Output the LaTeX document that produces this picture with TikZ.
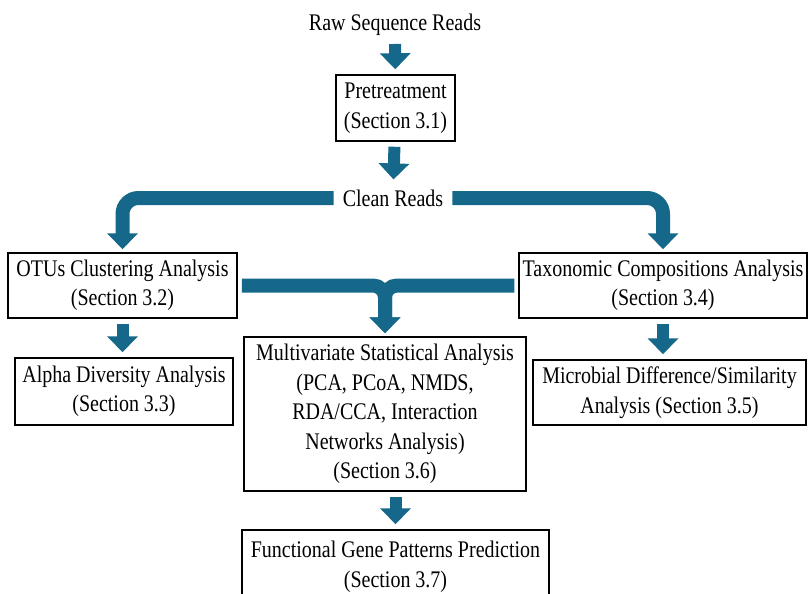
\documentclass[tikz,border=0pt]{standalone}
\usepackage{fontspec}
\setmainfont{Liberation Serif}[FakeStretch=0.84]
\usetikzlibrary{arrows.meta}
\definecolor{flowblue}{RGB}{22,104,138}
\tikzset{
  txt/.style={font=\fontsize{23.8}{29.5}\selectfont, align=center, inner sep=3pt},
  box/.style={txt, draw=black, line width=1.5pt, inner sep=0pt},
  flow/.style={draw=flowblue, line width=12pt, shorten <=5pt, shorten >=5pt,
    -{Triangle[width=30pt,length=16pt]}},
  bar/.style={flow, line width=14pt, shorten <=4pt, shorten >=3pt}
}
\begin{document}
\begin{tikzpicture}[x=1pt, y=-1pt]
  \useasboundingbox (0,0) rectangle (809,594);
  \node[txt] (raw) at (395,25) {Raw Sequence Reads};
  \node[box, minimum width=119pt, minimum height=66pt] (pre) at (395.5,108) {Pretreatment\\(Section 3.1)};
  \node[txt, inner sep=5pt] (clean) at (393,198) {Clean Reads};
  \node[box, minimum width=229pt, minimum height=65pt] (otu) at (122.5,285.5) {OTUs Clustering Analysis\\(Section 3.2)};
  \node[box, minimum width=288pt, minimum height=65pt] (tax) at (663,285.5) {Taxonomic Compositions Analysis\\(Section 3.4)};
  \node[box, minimum width=218pt, minimum height=67pt] (alpha) at (124,391.5) {Alpha Diversity Analysis\\(Section 3.3)};
  \node[box, minimum width=273pt, minimum height=65pt] (micro) at (669.5,392.5) {Microbial Difference/Similarity\\Analysis (Section 3.5)};
  \node[box, minimum width=282pt, minimum height=154pt] (multi) at (385,414) {Multivariate Statistical Analysis\\(PCA, PCoA, NMDS,\\RDA/CCA, Interaction\\Networks Analysis)\\(Section 3.6)};
  \node[box, minimum width=307pt, minimum height=74pt] (fgp) at (395.5,567) {Functional Gene Patterns Prediction\\(Section 3.7)};

  \draw[flow] (raw) -- (pre);
  \draw[flow] (pre) -- (clean);
  \draw[bar, rounded corners=16pt] (clean.west) -- (clean.west -| otu.north) -- (otu.north);
  \draw[bar, rounded corners=16pt] (clean.east) -- (clean.east -| tax.north) -- (tax.north);
  % two halves meet above the multivariate box
  \draw[bar, rounded corners=12pt] (otu.east) -- (otu.east -| multi.north) -- (multi.north);
  \draw[bar, rounded corners=12pt] (tax.west) -- (tax.west -| multi.north) -- (multi.north);
  \draw[flow] (otu.south) -- (otu.south |- alpha.north);
  \draw[flow] (tax.south) -- (tax.south |- micro.north);
  \draw[flow] (multi.south -| fgp) -- (fgp.north);
\end{tikzpicture}
\end{document}
